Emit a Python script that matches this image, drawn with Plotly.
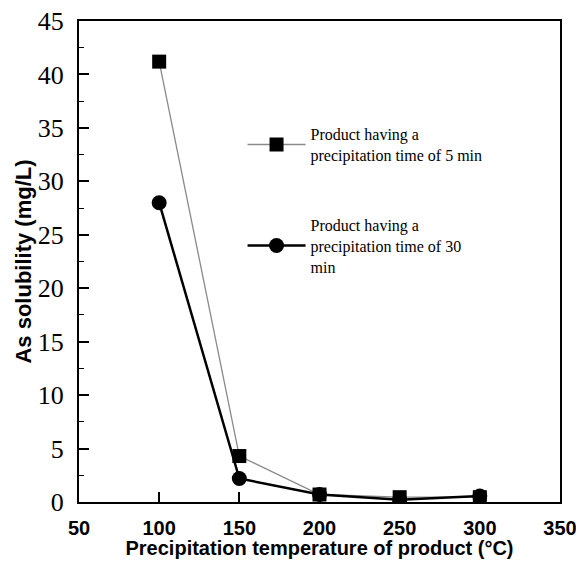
import plotly.graph_objects as go

temps = [100, 150, 200, 250, 300]
sol_5min = [41.2, 4.3, 0.7, 0.45, 0.45]
sol_30min = [28.0, 2.2, 0.7, 0.2, 0.55]
name_5 = "Product having a<br>precipitation time of 5 min"
name_30 = "Product having a<br>precipitation time of 30<br>min"

fig = go.Figure()
fig.add_trace(go.Scatter(
    x=temps, y=sol_5min, mode="lines+markers", name=name_5, legendgroup="a",
    line=dict(color="#8a8a8a", width=1.3),
    marker=dict(symbol="square", size=14, color="black"),
))
fig.add_trace(go.Scatter(
    x=temps, y=sol_30min, mode="lines+markers", name=name_30, legendgroup="b",
    line=dict(color="black", width=2.5),
    marker=dict(symbol="circle", size=15, color="black"),
))

fig.update_layout(
    width=568, height=551,
    margin=dict(l=71, r=16, t=13, b=57, autoexpand=False),
    plot_bgcolor="white", paper_bgcolor="white",
    showlegend=True,
    legend=dict(
        x=0.34, y=0.80, xanchor="left", yanchor="top",
        font=dict(family="Liberation Serif", size=16, color="black"),
        bgcolor="rgba(0,0,0,0)", tracegroupgap=46, valign="middle",
        itemwidth=58,
    ),
    xaxis=dict(
        range=[50, 350], tickvals=[50, 100, 150, 200, 250, 300, 350],
        showline=True, linecolor="black", linewidth=2, mirror=True,
        ticks="inside", ticklen=10, tickwidth=1.5, tickcolor="black",
        showgrid=False, zeroline=False, automargin=False,
        ticklabeloverflow="allow", ticklabelstandoff=7,
        tickfont=dict(family="Liberation Sans", size=20, color="black", weight="bold"),
        title=dict(text="Precipitation temperature of product (°C)",
                   font=dict(family="Liberation Sans", size=20, color="black", weight="bold"),
                   standoff=4),
    ),
    yaxis=dict(
        range=[0, 45], tickvals=[0, 5, 10, 15, 20, 25, 30, 35, 40, 45],
        showline=True, linecolor="black", linewidth=2, mirror=True,
        ticks="inside", ticklen=10, tickwidth=1.5, tickcolor="black",
        minor=dict(dtick=2.5, ticks="inside", ticklen=5, tickwidth=1, tickcolor="black"),
        showgrid=False, zeroline=False, automargin=False,
        ticklabeloverflow="allow",
        tickfont=dict(family="Liberation Serif", size=26, color="black"),
        ticklabelstandoff=8,
        title=dict(text="As solubility (mg/L)",
                   font=dict(family="Liberation Sans", size=22, color="black", weight="bold"),
                   standoff=0),
    ),
)

fig.write_html("out.html")
